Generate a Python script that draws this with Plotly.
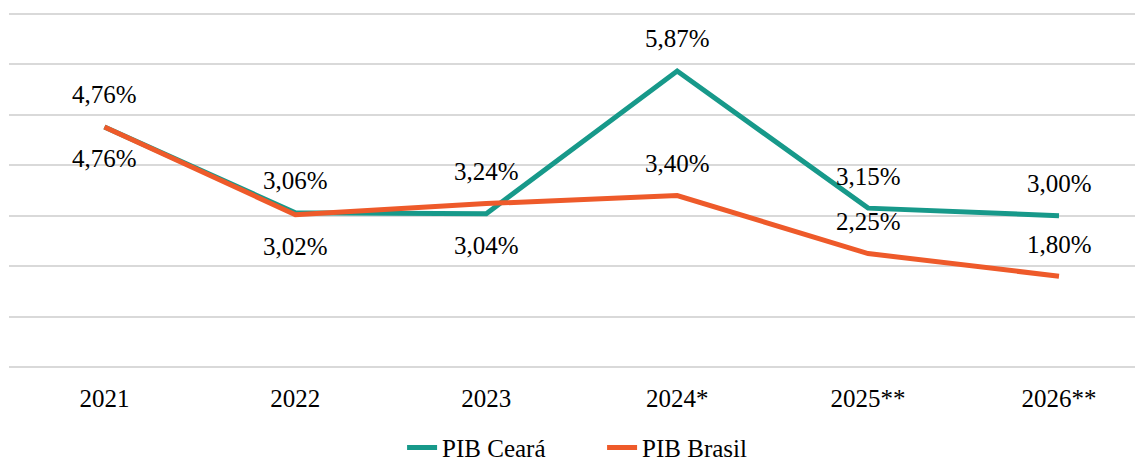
import plotly.graph_objects as go

years = ["2021", "2022", "2023", "2024*", "2025**", "2026**"]
pib_ceara = [4.76, 3.06, 3.04, 5.87, 3.15, 3.00]
pib_brasil = [4.76, 3.02, 3.24, 3.40, 2.25, 1.80]
ceara_label_pos = [1, 1, -1, 1, 1, 1]
brasil_label_pos = [-1, -1, 1, 1, 1, 1]

GREEN = "#17998A"
ORANGE = "#EE5A2A"
FONT = "Liberation Serif"
FS = 25

fig = go.Figure()
fig.add_trace(go.Scatter(x=years, y=pib_ceara, mode="lines", name="PIB Ceará",
                         line=dict(color=GREEN, width=5)))
fig.add_trace(go.Scatter(x=years, y=pib_brasil, mode="lines", name="PIB Brasil",
                         line=dict(color=ORANGE, width=5)))

def fmt(v):
    return f"{v:.2f}".replace(".", ",") + "%"

for vals, pos in ((pib_ceara, ceara_label_pos), (pib_brasil, brasil_label_pos)):
    for i, (v, p) in enumerate(zip(vals, pos)):
        fig.add_annotation(x=i, y=v, xref="x", yref="y", text=fmt(v), showarrow=False,
                           yshift=32 * p, font=dict(family=FONT, size=FS, color="#000"))

fig.update_layout(
    width=1135, height=453,
    margin=dict(l=1, r=0, t=5, b=94, autoexpand=False),
    plot_bgcolor="white", paper_bgcolor="white",
    font=dict(family=FONT, size=FS, color="#000"),
    showlegend=True,
    legend=dict(orientation="h", x=0.523, xanchor="center", y=-0.228, yanchor="middle",
                font=dict(family=FONT, size=FS), entrywidth=155, entrywidthmode="pixels"),
    xaxis=dict(type="category", range=[-0.5, 5.44], showgrid=False, showline=False, ticks="",
               ticklabelstandoff=14, tickfont=dict(family=FONT, size=FS)),
    yaxis=dict(range=[0, 7.02], dtick=1, showgrid=True, gridcolor="#D9D9D9", gridwidth=2,
               showticklabels=False, zeroline=True, zerolinecolor="#D9D9D9", zerolinewidth=2),
)
fig.write_html("out.html")
